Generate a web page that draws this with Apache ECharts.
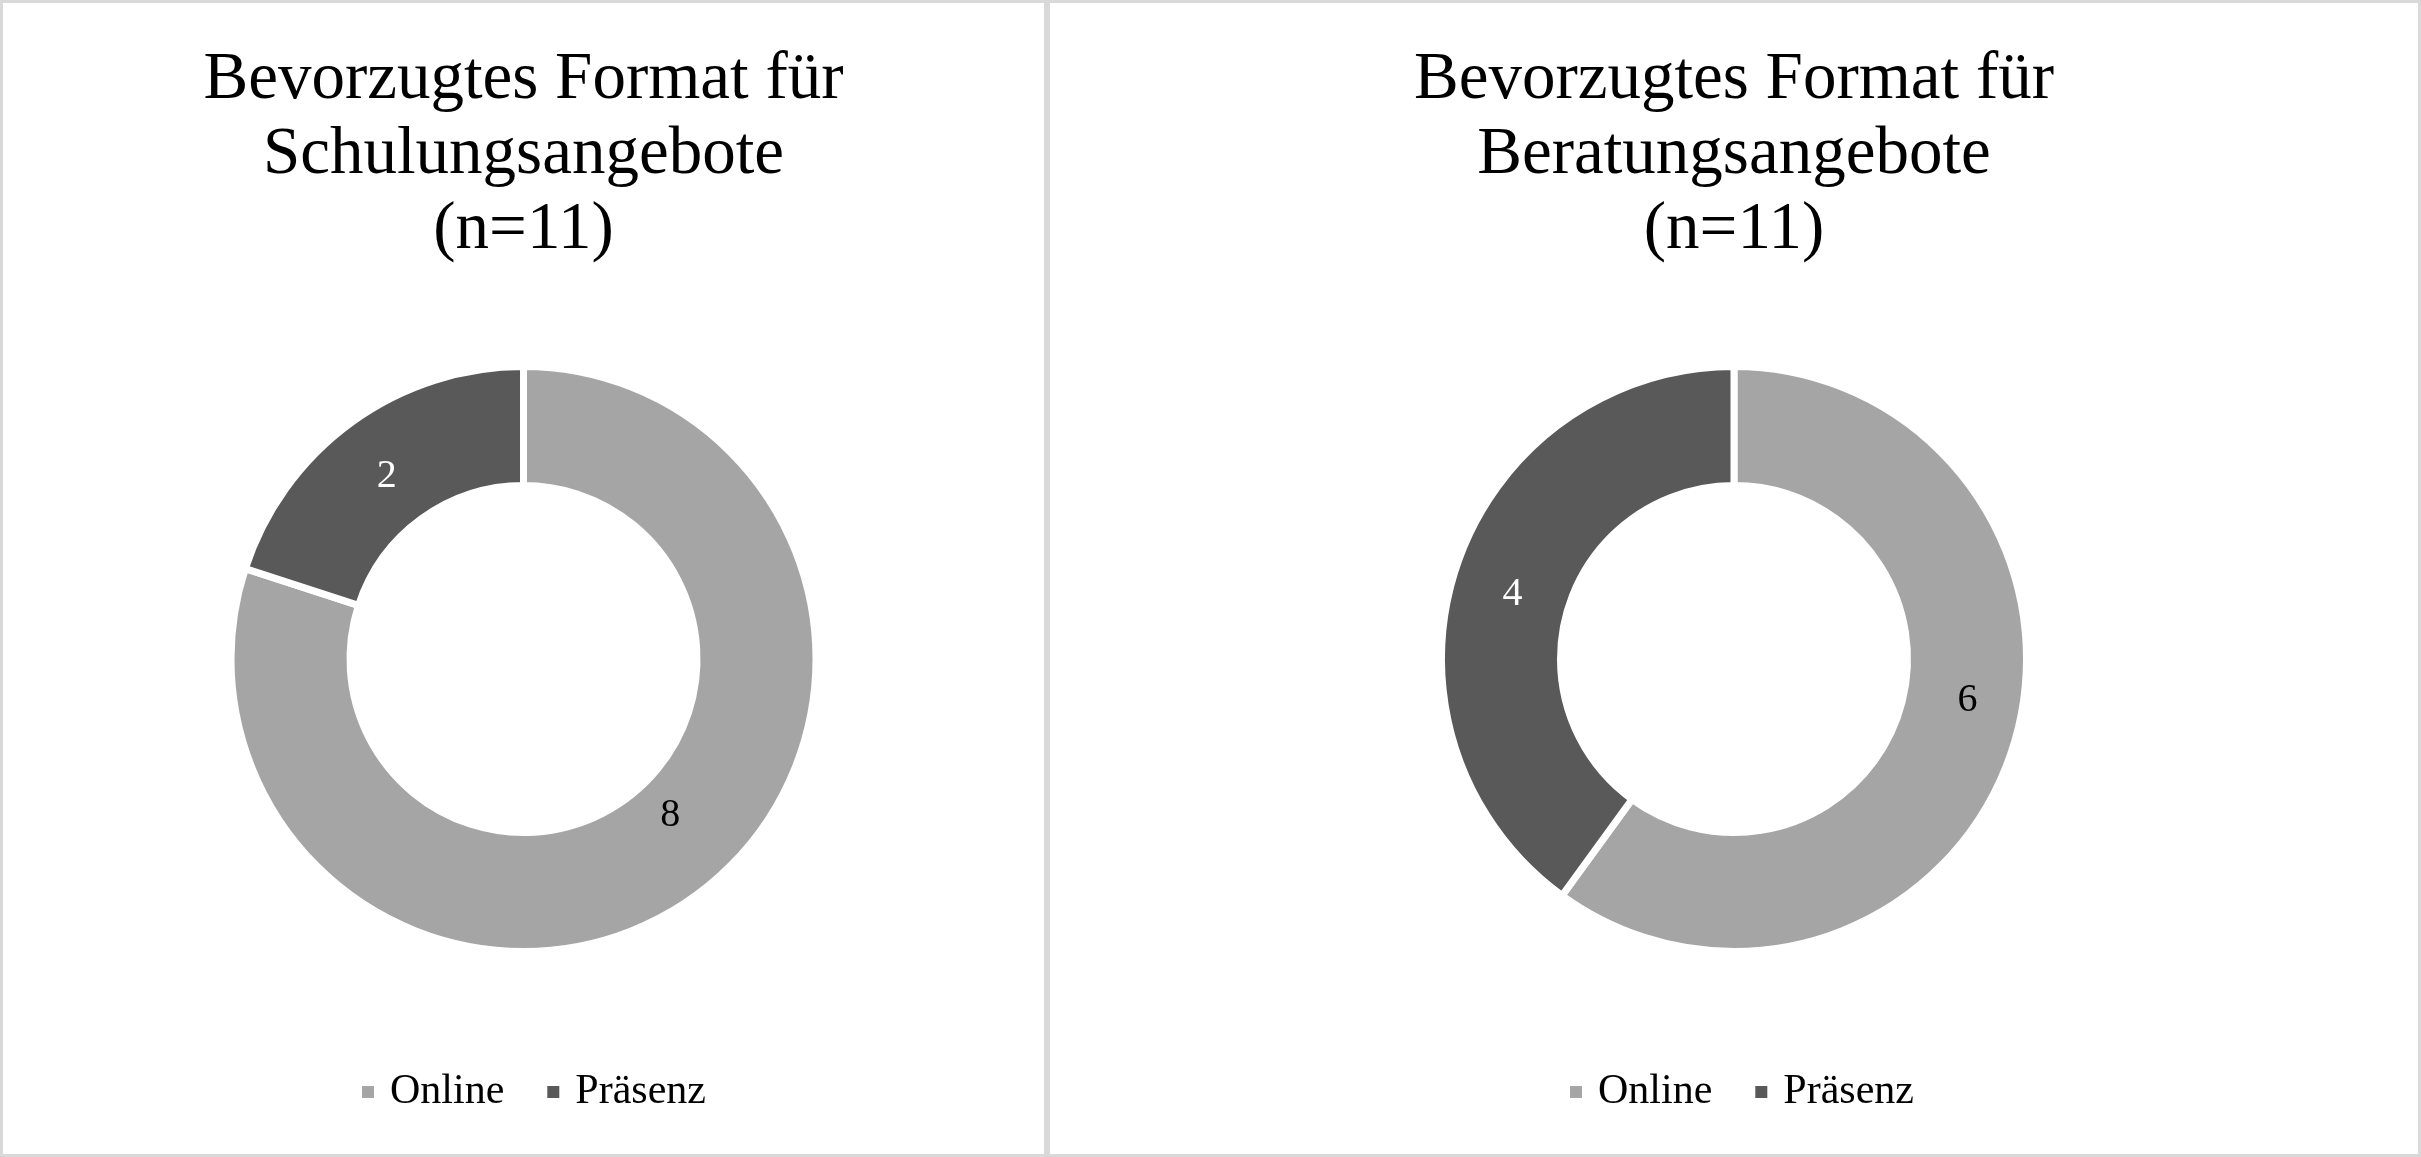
<!DOCTYPE html>
<html>
<head>
<meta charset="utf-8">
<script src="https://cdn.jsdelivr.net/npm/echarts@6/dist/echarts.min.js"></script>
<style>
  html, body { margin: 0; padding: 0; background: #fff; }
  .wrap { position: absolute; top: 0; height: 1157px; box-sizing: border-box; border: 3px solid #d9d9d9; }
  .chart { width: 100%; height: 100%; }
</style>
</head>
<body>
<div class="wrap" style="left:0;width:1047px;"><div id="c1" class="chart"></div></div>
<div class="wrap" style="left:1047px;width:1374px;"><div id="c2" class="chart"></div></div>
<script>
const categories = ['Online', 'Präsenz'];
const titles = [
  'Bevorzugtes Format für\nSchulungsangebote\n(n=11)',
  'Bevorzugtes Format für\nBeratungsangebote\n(n=11)'
];
const schulungValues = [8, 2];
const beratungValues = [6, 4];

const colors = ['#a5a5a5', '#595959'];
const labelColors = ['#000000', '#ffffff'];
const FONT = '"Liberation Serif", "DejaVu Serif", serif';

function build(el, title, values, labelShift, legendLeft) {
  const chart = echarts.init(document.getElementById(el));
  chart.setOption({
    animation: false,
    color: colors,
    title: {
      text: title,
      left: 'center',
      top: 35,
      textStyle: { fontFamily: FONT, fontSize: 67, lineHeight: 75, fontWeight: 'normal', color: '#000' }
    },
    legend: {
      data: categories,
      left: legendLeft,
      bottom: 36,
      icon: 'rect',
      itemWidth: 14,
      itemHeight: 14,
      itemGap: 41,
      textStyle: { fontFamily: FONT, fontSize: 42, lineHeight: 42, color: '#000', padding: [0, 0, 0, 10] }
    },
    series: [{
      type: 'pie',
      center: ['50%', 656],
      radius: [173.5, 292.5],
      startAngle: 90,
      clockwise: true,
      avoidLabelOverlap: false,
      itemStyle: { borderColor: '#ffffff', borderWidth: 7 },
      emphasis: { disabled: true },
      label: {
        show: true,
        position: 'inside',
        formatter: '{c}',
        fontFamily: FONT,
        fontSize: 40
      },
      labelLine: { show: false },
      data: categories.map((name, i) => ({
        name: name,
        value: values[i],
        label: { color: labelColors[i], offset: labelShift[i] }
      }))
    }]
  });
}

build('c1', titles[0], schulungValues, [[8, -34], [2, 8]], 352);
build('c2', titles[1], beratungValues, [[9, -31], [3, 8]], 513);
</script>
</body>
</html>
